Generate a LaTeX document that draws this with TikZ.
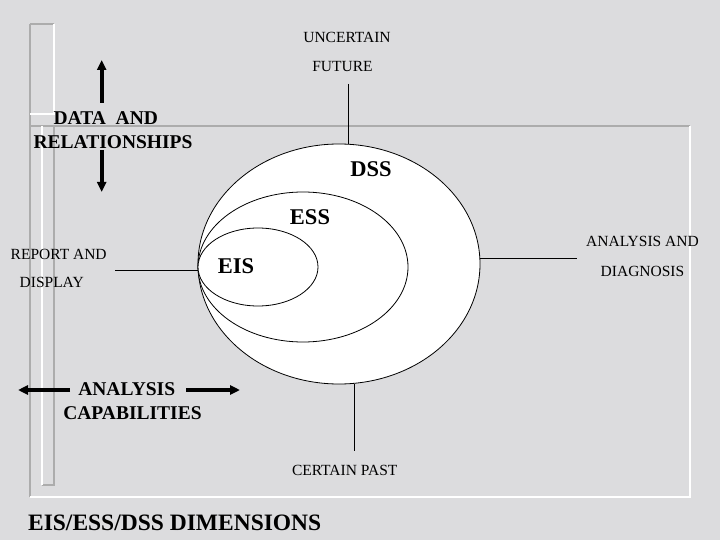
\documentclass[tikz,border=0pt]{standalone}
\usepackage{fontspec}
\setmainfont{Liberation Serif}
\usepackage{xcolor}
\usepackage{tikz}
\usetikzlibrary{positioning, calc, arrows.meta, shapes.geometric}
\definecolor{marble}{RGB}{220, 220, 222}
\definecolor{framegray}{RGB}{172, 172, 172}

\begin{document}
\begin{tikzpicture}[
                x=1pt, y=-1pt,
                % Style for the nested ellipses
                ring/.style={
                    ellipse, draw=black, line width=0.8pt,
                    fill=white, inner sep=0pt
                },
                % Style for the small plain labels
                smalltag/.style={
                    font=\fontsize{15.5}{18}\selectfont, inner sep=0pt, anchor=base
                },
                % Style for the bold side labels
                sidetag/.style={
                    font=\fontsize{19.5}{22}\selectfont\bfseries, inner sep=0pt, anchor=base
                },
                % Style for the bold names inside the ellipses
                bigtag/.style={
                    font=\fontsize{22.5}{26}\selectfont\bfseries, inner sep=0pt, anchor=base
                },
                % Style for the thin connectors
                thinline/.style={
                    line width=0.9pt, color=black
                },
                % Style for the thick arrows
                fatarrow/.style={
                    -{Triangle[length=10pt, width=9pt]}, line width=4pt, color=black
                },
                % Frame lines
                grayline/.style={line width=2pt, color=framegray},
                whiteline/.style={line width=2pt, color=white}
            ]
                % 0. Background
                \fill[marble] (0,0) rectangle (720,540);
                \useasboundingbox (0,0) rectangle (720,540);

                % 1. Frame lines
                \draw[grayline] (30,24) -- (54,24);
                \draw[grayline] (30,24) -- (30,497);
                \draw[grayline] (30,126) -- (690,126);
                \draw[grayline] (54,126) -- (54,485) -- (42,485);
                \draw[whiteline] (54,24) -- (54,114) -- (30,114);
                \draw[whiteline] (42,126) -- (42,485);
                \draw[whiteline] (30,497) -- (690,497) -- (690,126);

                % 2. Ellipses (outer first)
                \node[ring, minimum width=282pt, minimum height=240pt] (dss) at (339,264) {};
                \node[ring, minimum width=210pt, minimum height=150pt] (ess) at (303,267) {};
                \node[ring, minimum width=120pt, minimum height=78pt] (eis) at (258,267) {};

                \node[bigtag] (dsstag) at (371,176.5) {DSS};
                \node[bigtag] (esstag) at (310,225) {ESS};
                \node[bigtag] (eistag) at (236,273) {EIS};

                % 3. Plain labels
                \node[smalltag] (uncertain) at (347,42.5) {UNCERTAIN};
                \node[smalltag] (future) at (342.5,72) {FUTURE};
                \node[smalltag] (report) at (58.7,259.3) {REPORT AND};
                \node[smalltag] (display) at (51.7,287.7) {DISPLAY};
                \node[smalltag] (analysis) at (642.5,246.7) {ANALYSIS AND};
                \node[smalltag] (diagnosis) at (642.5,276) {DIAGNOSIS};
                \node[smalltag] (past) at (344.7,475) {CERTAIN PAST};

                % 4. Bold labels
                \node[sidetag] (data) at (105.8,125) {DATA\ \ AND};
                \node[sidetag] (relations) at (113,148.5) {RELATIONSHIPS};
                \node[sidetag] (capa) at (126.7,395) {ANALYSIS};
                \node[sidetag] (capb) at (132.5,419) {CAPABILITIES};
                \node[font=\fontsize{23.5}{27}\selectfont\bfseries, inner sep=0pt, anchor=base]
                    (title) at (174.7,530) {EIS/ESS/DSS DIMENSIONS};

                % 5. Thin connectors to the ellipses
                \coordinate (futend) at (348,84);
                \coordinate (pastend) at (354,451);
                \coordinate (diagend) at (577,258);
                \coordinate (repend) at (115,270);
                \draw[thinline] (futend) -- (futend |- dss.north);
                \draw[thinline] (pastend |- dss.south) -- (pastend);
                \draw[thinline] (diagend -| dss.east) -- (diagend);
                \draw[thinline] (repend) -- (repend -| eis.west);

                % 6. Thick arrows
                \coordinate (upfrom) at (101.7,103);
                \coordinate (upto) at (101.7,60);
                \coordinate (downfrom) at (101.7,150);
                \coordinate (downto) at (101.7,192);
                \coordinate (leftfrom) at (70,390);
                \coordinate (leftto) at (18,390);
                \coordinate (rightfrom) at (186,390);
                \coordinate (rightto) at (240,390);
                \draw[fatarrow] (upfrom) -- (upto);
                \draw[fatarrow] (downfrom) -- (downto);
                \draw[fatarrow] (leftfrom) -- (leftto);
                \draw[fatarrow] (rightfrom) -- (rightto);

            \end{tikzpicture}
\end{document}
